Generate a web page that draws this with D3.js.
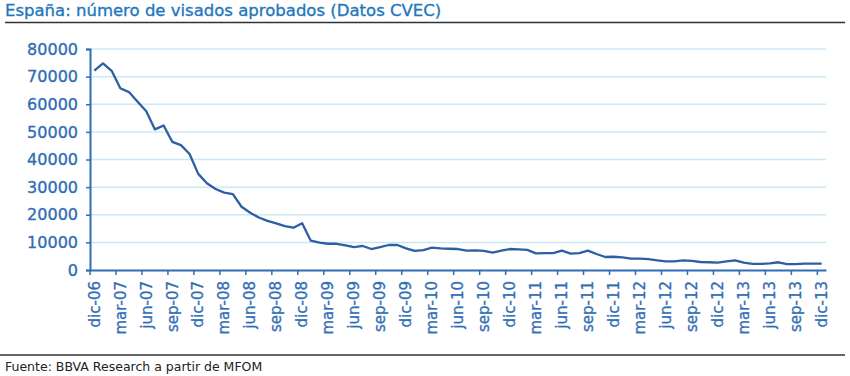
<!DOCTYPE html>
<html>
<head>
<meta charset="utf-8">
<script src="https://cdn.jsdelivr.net/npm/d3@7"></script>
<style>
  body { margin: 0; background: #fff; }
</style>
</head>
<body>
<div id="vis"></div>
<script>
// month names and years used for the category axis
const monthNames = ["ene", "feb", "mar", "abr", "may", "jun", "jul", "ago", "sep", "oct", "nov", "dic"];
const years = ["07", "08", "09", "10", "11", "12", "13"];

// dic-06 .. dic-13, one value per month (visados aprobados)
const visados = [
    72200, 74800, 72100, 65800, 64400, 60900, 57500, 50900, 52300, 46400, 45200, 42000,
    34800, 31400, 29300, 28000, 27500, 22900, 20700, 19000, 17800, 16900, 15900, 15300,
    16900, 10600, 9900, 9500, 9500, 8900, 8300, 8700, 7600, 8300, 9050, 9050,
    7850, 6900, 7200, 8100, 7800, 7700, 7600, 7000, 7100, 6900, 6300, 7000,
    7600, 7500, 7300, 6000, 6100, 6100, 7000, 5900, 6100, 7000, 5800, 4700,
    4800, 4600, 4100, 4100, 3900, 3500, 3100, 3100, 3500, 3300, 2900, 2800,
    2650, 3100, 3500, 2650, 2200, 2200, 2400, 2800, 2100, 2100, 2300, 2300,
    2300
];

const yTicks = [0, 10000, 20000, 30000, 40000, 50000, 60000, 70000, 80000];

const title = "España: número de visados aprobados (Datos CVEC)";
const source = "Fuente: BBVA Research a partir de MFOM";

var months = ["dic-06"];
years.forEach(y => monthNames.forEach(m => months.push(m + "-" + y)));
months = months.slice(0, visados.length);

// every third month gets a label
const quarterLabels = months.filter((d, i) => i % 3 === 0);

const width = 850, height = 376;
const blue = "#2f6db5";

const svg = d3.select("#vis").append("svg")
    .attr("width", width)
    .attr("height", height)
    .style("font-family", "'DejaVu Sans', sans-serif");

const x = d3.scaleBand()
    .domain(months)
    .range([90, 826]);

const y = d3.scaleLinear()
    .domain([0, 80000])
    .range([270, 49]);

const bw = x.bandwidth();

// title + rules
svg.append("text")
    .attr("x", 5)
    .attr("y", 15.5)
    .attr("fill", "#1f77bd")
    .attr("stroke", "#1f77bd")
    .attr("stroke-width", 0.35)
    .style("font-size", "16.5px")
    .text(title);

svg.append("line")
    .attr("x1", 5).attr("x2", 845)
    .attr("y1", 22.5).attr("y2", 22.5)
    .attr("stroke", "#333")
    .attr("stroke-width", 1.5);

svg.append("line")
    .attr("x1", 0).attr("x2", 845)
    .attr("y1", 355).attr("y2", 355)
    .attr("stroke", "#333")
    .attr("stroke-width", 1.5);

svg.append("text")
    .attr("x", 5)
    .attr("y", 371)
    .attr("fill", "#222")
    .style("font-size", "12.5px")
    .text(source);

// gridlines
svg.append("g")
    .selectAll("line")
    .data(yTicks.filter(d => d > 0))
    .join("line")
    .attr("x1", 90).attr("x2", 826)
    .attr("y1", d => y(d)).attr("y2", d => y(d))
    .attr("stroke", "#cbe8f8")
    .attr("stroke-width", 1.5);

// y axis
const yAxis = svg.append("g")
    .attr("transform", "translate(90,0)")
    .call(d3.axisLeft(y).tickValues(yTicks).tickSize(4).tickPadding(8).tickFormat(d3.format("d")));

yAxis.select(".domain").attr("stroke", blue).attr("stroke-width", 2);
yAxis.selectAll(".tick line").attr("stroke", blue).attr("stroke-width", 1.5);
yAxis.selectAll(".tick text")
    .attr("fill", blue)
    .attr("stroke", blue)
    .attr("stroke-width", 0.35)
    .style("font-size", "16px")
    .style("font-family", "'DejaVu Sans', sans-serif");

// x axis, ticks sit on the band edge, labels on the band centre
const xAxis = svg.append("g")
    .attr("transform", "translate(0,270)")
    .call(d3.axisBottom(x).tickValues(quarterLabels).tickSize(5).tickSizeOuter(0));

xAxis.select(".domain").attr("stroke", blue).attr("stroke-width", 2);
xAxis.selectAll(".tick line")
    .attr("transform", `translate(${-bw / 2},0)`)
    .attr("stroke", blue)
    .attr("stroke-width", 1.5);
xAxis.selectAll(".tick text")
    .attr("fill", blue)
    .attr("stroke", blue)
    .attr("stroke-width", 0.3)
    .style("font-size", "15px")
    .style("font-family", "'DejaVu Sans', sans-serif")
    .attr("text-anchor", "end")
    .attr("transform", "rotate(-90)")
    .attr("x", -11)
    .attr("y", 0)
    .attr("dy", "0.35em");

// the series
const line = d3.line()
    .x((d, i) => x(months[i]) + bw / 2)
    .y(d => y(d));

svg.append("path")
    .datum(visados)
    .attr("fill", "none")
    .attr("stroke", "#2c5fa3")
    .attr("stroke-width", 2.3)
    .attr("stroke-linejoin", "round")
    .attr("d", line);
</script>
</body>
</html>
